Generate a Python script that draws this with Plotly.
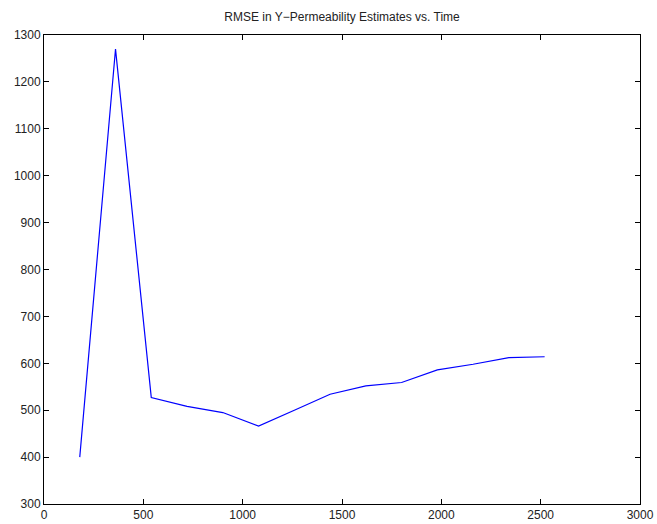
import plotly.graph_objects as go

# Time steps and RMSE of the Y-permeability estimates
time = [180, 360, 540, 720, 900, 1080, 1260, 1440, 1620, 1800, 1980, 2160, 2340, 2520]
rmse = [400, 1270, 527, 508, 495, 466, 500, 534, 552, 559, 586, 598, 612, 614]

x_ticks = [0, 500, 1000, 1500, 2000, 2500, 3000]
y_ticks = [300, 400, 500, 600, 700, 800, 900, 1000, 1100, 1200, 1300]

FONT = "Liberation Sans, Arial, Helvetica, sans-serif"

fig = go.Figure()
fig.add_trace(go.Scatter(x=time, y=rmse, mode="lines",
                         line=dict(color="#0000ff", width=1.2),
                         showlegend=False, hoverinfo="x+y"))

axis_common = dict(
    showgrid=False, zeroline=False, automargin=False,
    showline=True, linecolor="black", linewidth=1, mirror="ticks",
    ticks="inside", ticklen=5, tickcolor="black", tickwidth=1,
    tickfont=dict(family=FONT, size=12, color="#222222"),
)

fig.update_layout(
    width=657, height=524,
    margin=dict(l=44, r=17, t=35, b=20),
    paper_bgcolor="white", plot_bgcolor="white",
    title=dict(text="RMSE in Y\u2212Permeability Estimates vs. Time",
               x=0.5, xref="paper", y=1, yref="container", yanchor="top", pad=dict(t=13),
               font=dict(family=FONT, size=12, color="#222222")),
    xaxis=dict(range=[0, 3000], tickvals=x_ticks, **axis_common),
    yaxis=dict(range=[300, 1300], tickvals=y_ticks, **axis_common),
)

fig.write_html("out.html")
